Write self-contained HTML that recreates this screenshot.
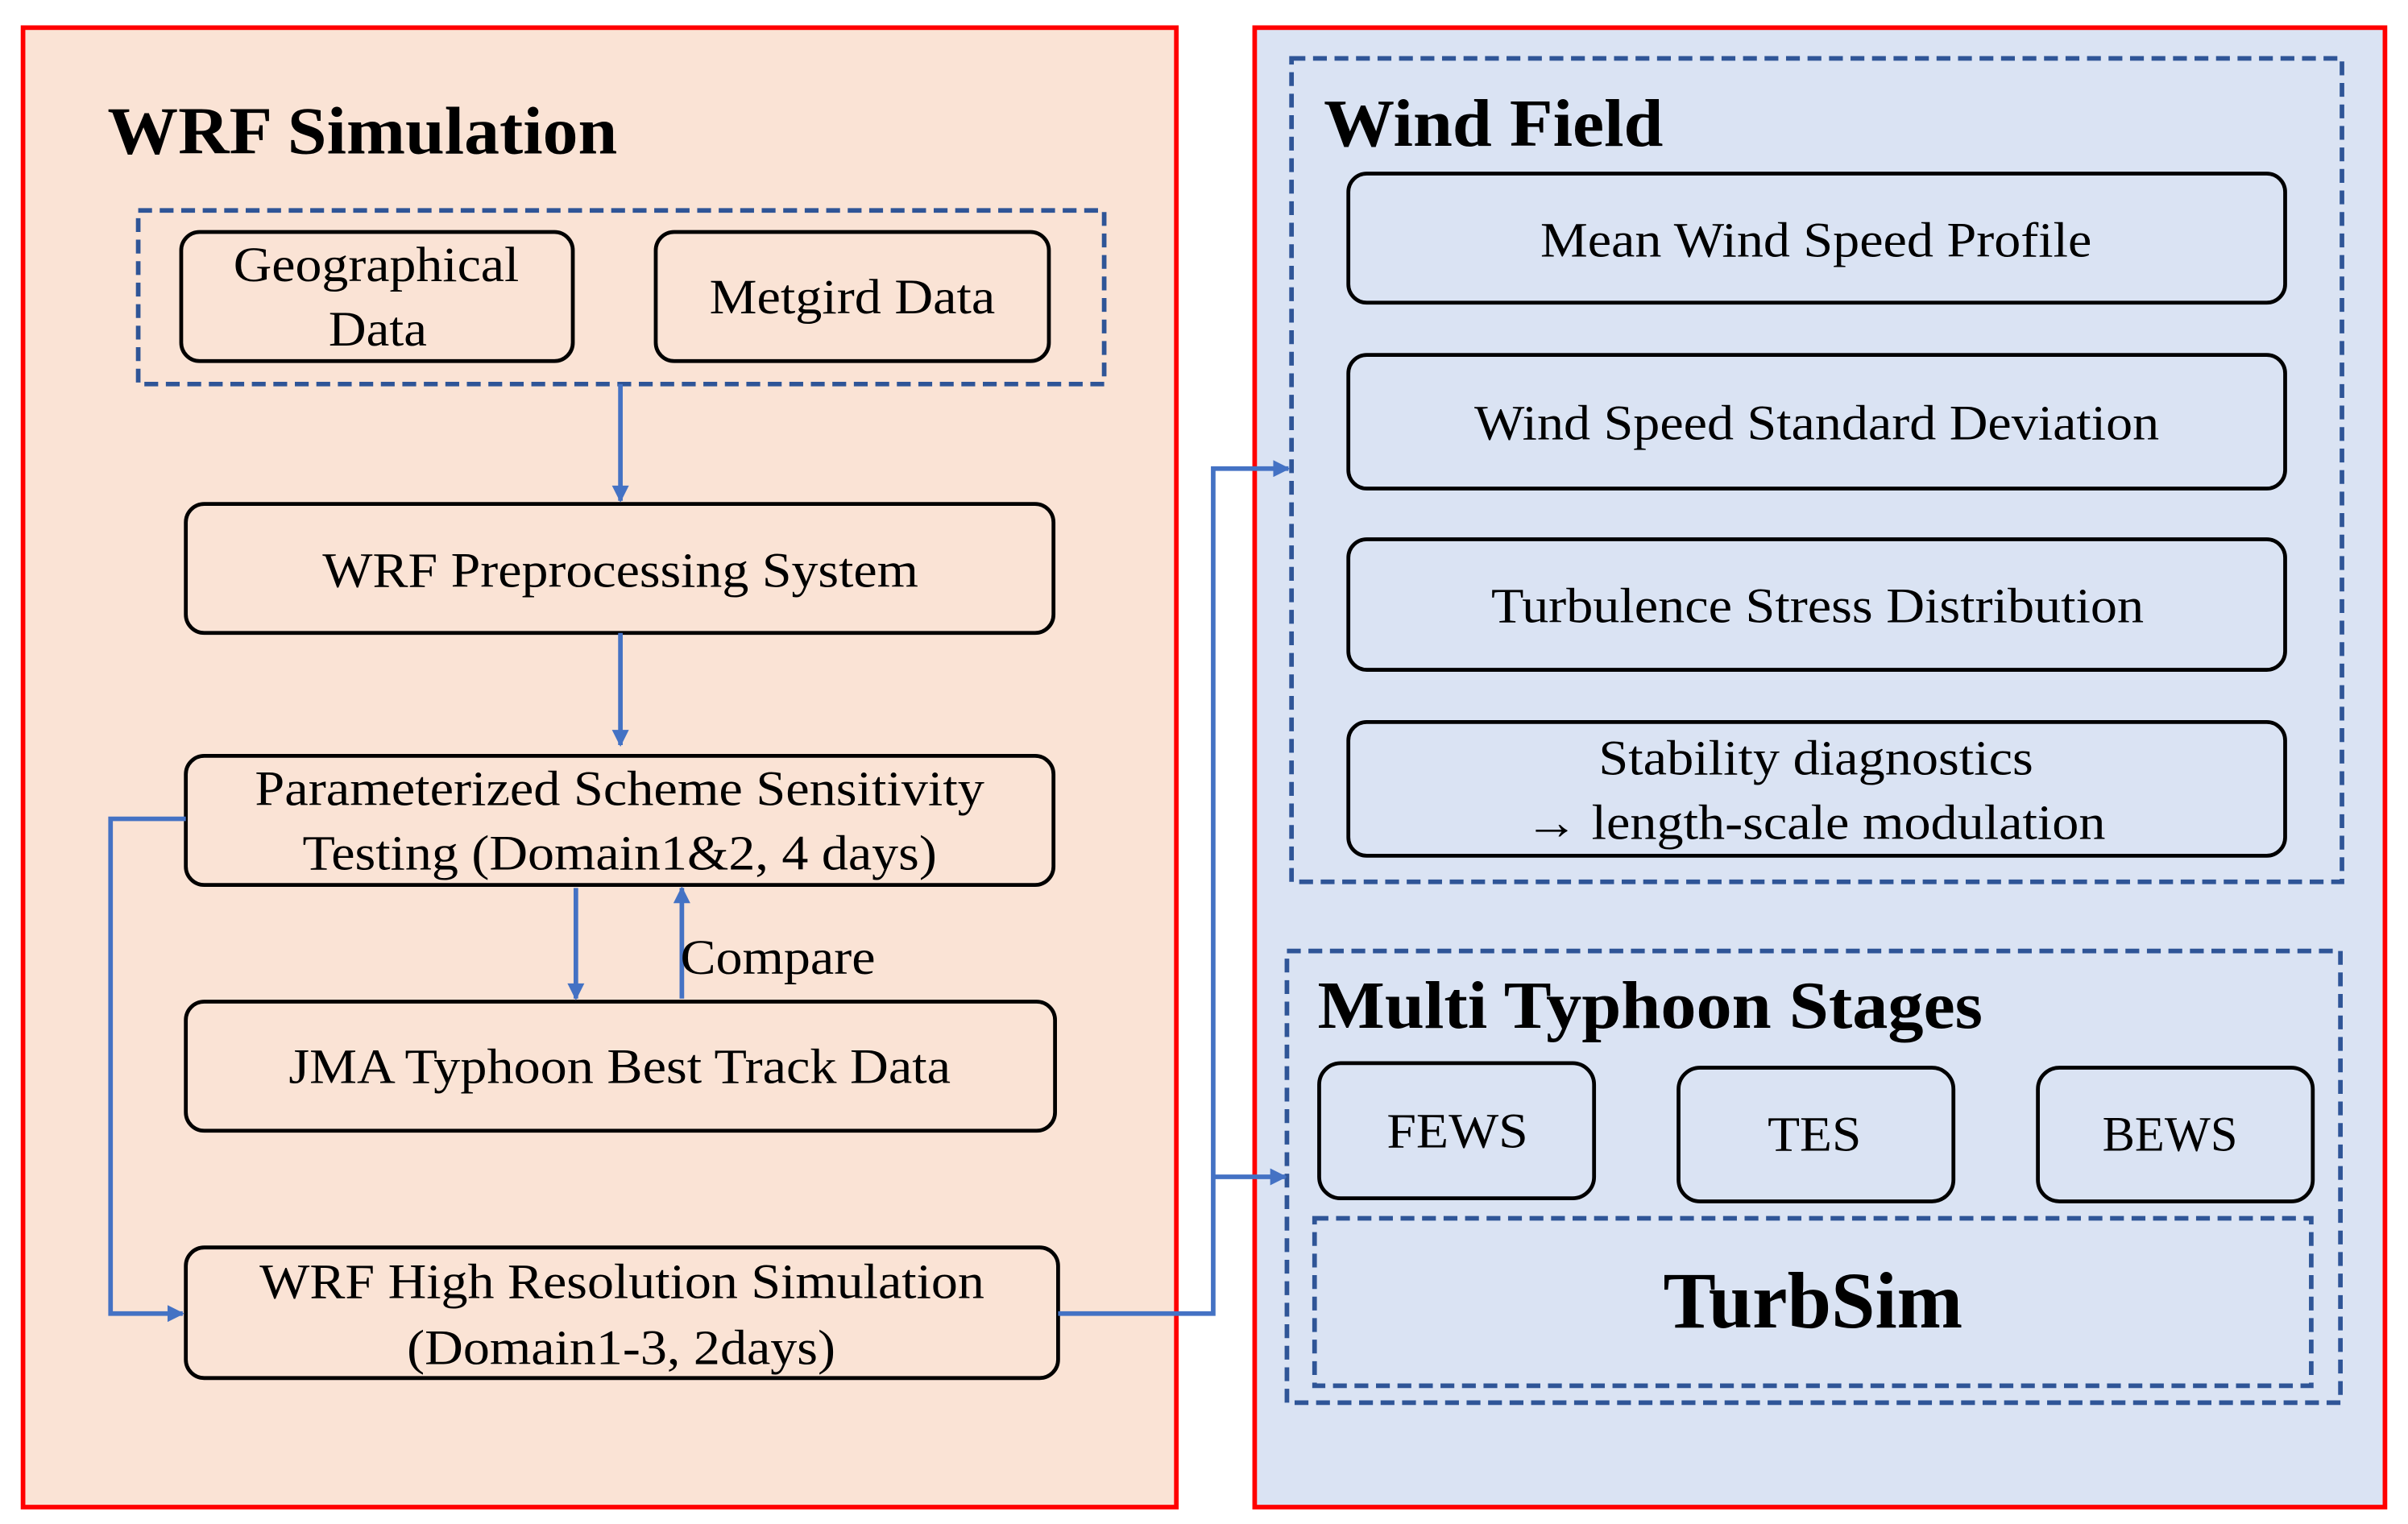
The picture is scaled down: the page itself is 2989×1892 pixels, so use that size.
<!DOCTYPE html>
<html><head><meta charset="utf-8"><style>html,body{margin:0;padding:0;background:#fff}svg{display:block}</style></head><body>
<svg width="2989" height="1892" viewBox="0 0 1568 992" preserveAspectRatio="none" xmlns="http://www.w3.org/2000/svg" font-family="'Liberation Serif', serif">
<defs>
<marker id="ar" viewBox="0 0 10 10" refX="9" refY="5" markerWidth="12" markerHeight="11" orient="auto-start-reverse" markerUnits="userSpaceOnUse">
<path d="M0,0 L10,5 L0,10 z" fill="#4472c4"/></marker>
</defs>
<rect x="0" y="0" width="1568" height="992" fill="#fff"/>
<rect x="15" y="18" width="751" height="963" fill="#fae3d5" stroke="#ff0000" stroke-width="3"/>
<rect x="817" y="18" width="736" height="963" fill="#dae3f3" stroke="#ff0000" stroke-width="3"/>

<g fill="none" stroke="#2f5597" stroke-width="3" stroke-dasharray="9,5">
<rect x="90" y="137" width="629" height="113"/>
<rect x="841" y="38" width="684" height="536"/>
<rect x="838" y="619" width="686" height="294"/>
<rect x="856" y="793" width="649" height="109"/>
</g>

<g fill="none" stroke="#000" stroke-width="2.5">
<rect x="118" y="151" width="255" height="84" rx="12"/>
<rect x="427" y="151" width="256" height="84" rx="12"/>
<rect x="121" y="328" width="565" height="84" rx="12"/>
<rect x="121" y="492" width="565" height="84" rx="12"/>
<rect x="121" y="652" width="566" height="84" rx="12"/>
<rect x="121" y="812" width="568" height="85" rx="12"/>
<rect x="878" y="113" width="610" height="84" rx="12"/>
<rect x="878" y="231" width="610" height="87" rx="12"/>
<rect x="878" y="351" width="610" height="85" rx="12"/>
<rect x="878" y="470" width="610" height="87" rx="12"/>
<rect x="859" y="692" width="179" height="88" rx="14"/>
<rect x="1093" y="695" width="179" height="87" rx="14"/>
<rect x="1327" y="695" width="179" height="87" rx="14"/>
</g>

<g fill="none" stroke="#4472c4" stroke-width="3">
<line x1="404" y1="250" x2="404" y2="326" marker-end="url(#ar)"/>
<line x1="404" y1="412" x2="404" y2="485" marker-end="url(#ar)"/>
<line x1="375" y1="578" x2="375" y2="650" marker-end="url(#ar)"/>
<line x1="444" y1="650" x2="444" y2="578" marker-end="url(#ar)"/>
<polyline points="121,533 72,533 72,855 119,855" marker-end="url(#ar)"/>
<polyline points="689,855 790,855 790,305 839,305" marker-end="url(#ar)"/>
<line x1="790" y1="766" x2="837" y2="766" marker-end="url(#ar)"/>
</g>

<g font-weight="bold" font-size="44" fill="#000">
<text x="70" y="100" textLength="332" lengthAdjust="spacingAndGlyphs">WRF Simulation</text>
<text x="862" y="95" textLength="221" lengthAdjust="spacingAndGlyphs">Wind Field</text>
<text x="858" y="669" textLength="433" lengthAdjust="spacingAndGlyphs">Multi Typhoon Stages</text>
<text x="1083" y="864" font-size="52" textLength="195" lengthAdjust="spacingAndGlyphs">TurbSim</text>
</g>

<g font-size="32" fill="#000">
<text x="152" y="183" textLength="186" lengthAdjust="spacingAndGlyphs">Geographical</text>
<text x="214" y="225" textLength="64" lengthAdjust="spacingAndGlyphs">Data</text>
<text x="462" y="204" textLength="186" lengthAdjust="spacingAndGlyphs">Metgird Data</text>
<text x="210" y="382" textLength="388" lengthAdjust="spacingAndGlyphs">WRF Preprocessing System</text>
<text x="166" y="524" textLength="475" lengthAdjust="spacingAndGlyphs">Parameterized Scheme Sensitivity</text>
<text x="197" y="566" textLength="413" lengthAdjust="spacingAndGlyphs">Testing (Domain1&amp;2, 4 days)</text>
<text x="443" y="634" textLength="127" lengthAdjust="spacingAndGlyphs">Compare</text>
<text x="188" y="705" textLength="431" lengthAdjust="spacingAndGlyphs">JMA Typhoon Best Track Data</text>
<text x="169" y="845" textLength="472" lengthAdjust="spacingAndGlyphs">WRF High Resolution Simulation</text>
<text x="265" y="888" textLength="279" lengthAdjust="spacingAndGlyphs">(Domain1-3, 2days)</text>
<text x="1003" y="167" textLength="359" lengthAdjust="spacingAndGlyphs">Mean Wind Speed Profile</text>
<text x="960" y="286" textLength="446" lengthAdjust="spacingAndGlyphs">Wind Speed Standard Deviation</text>
<text x="971" y="405" textLength="425" lengthAdjust="spacingAndGlyphs">Turbulence Stress Distribution</text>
<text x="1041" y="504" textLength="283" lengthAdjust="spacingAndGlyphs">Stability diagnostics</text>
<text x="993" y="546" textLength="378" lengthAdjust="spacingAndGlyphs">→ length-scale modulation</text>
<text x="903" y="747" textLength="92" lengthAdjust="spacingAndGlyphs">FEWS</text>
<text x="1151" y="749" textLength="61" lengthAdjust="spacingAndGlyphs">TES</text>
<text x="1369" y="749" textLength="88" lengthAdjust="spacingAndGlyphs">BEWS</text>
</g>
</svg>
</body></html>
